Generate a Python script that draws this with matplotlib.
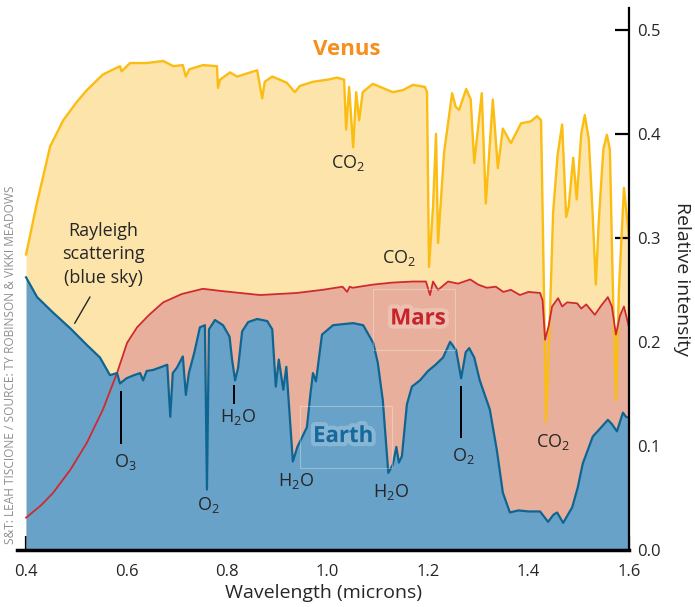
import matplotlib
matplotlib.use("Agg")
import matplotlib.pyplot as plt
import matplotlib.patheffects as pe
from matplotlib.patches import Rectangle

# Spectra (wavelength in microns, relative intensity)
venus_wl = [0.400, 0.420, 0.448, 0.474, 0.500, 0.521, 0.553, 0.587, 0.590, 0.607, 0.640,
            0.673, 0.693, 0.712, 0.718, 0.725, 0.752, 0.780, 0.782, 0.786, 0.806, 0.820,
            0.840, 0.860, 0.870, 0.875, 0.890, 0.905, 0.919, 0.935, 0.945, 0.971, 1.000,
            1.019, 1.033, 1.037, 1.043, 1.051, 1.057, 1.063, 1.070, 1.090, 1.110, 1.130,
            1.150, 1.170, 1.194, 1.198, 1.202, 1.210, 1.216, 1.220, 1.232, 1.248, 1.255,
            1.262, 1.276, 1.285, 1.292, 1.307, 1.315, 1.329, 1.339, 1.349, 1.365, 1.385,
            1.405, 1.417, 1.425, 1.429, 1.435, 1.441, 1.449, 1.458, 1.467, 1.475, 1.480,
            1.489, 1.496, 1.505, 1.512, 1.520, 1.527, 1.534, 1.540, 1.549, 1.556, 1.562,
            1.568, 1.574, 1.580, 1.590, 1.595, 1.600]
venus_val = [0.284, 0.330, 0.388, 0.413, 0.430, 0.442, 0.457, 0.465, 0.460, 0.468, 0.468,
             0.470, 0.465, 0.466, 0.455, 0.462, 0.466, 0.465, 0.444, 0.452, 0.459, 0.455,
             0.458, 0.461, 0.434, 0.450, 0.455, 0.452, 0.449, 0.440, 0.446, 0.450, 0.452,
             0.454, 0.452, 0.404, 0.445, 0.387, 0.440, 0.413, 0.440, 0.448, 0.444, 0.440,
             0.442, 0.447, 0.445, 0.440, 0.272, 0.330, 0.400, 0.295, 0.382, 0.439, 0.426,
             0.423, 0.443, 0.433, 0.372, 0.439, 0.333, 0.433, 0.367, 0.405, 0.391, 0.410,
             0.412, 0.417, 0.413, 0.300, 0.123, 0.200, 0.324, 0.380, 0.409, 0.320, 0.330,
             0.377, 0.337, 0.400, 0.418, 0.395, 0.330, 0.255, 0.317, 0.385, 0.399, 0.385,
             0.250, 0.144, 0.250, 0.348, 0.324, 0.300]

mars_wl = [0.400, 0.430, 0.454, 0.488, 0.521, 0.553, 0.581, 0.601, 0.621, 0.645, 0.673,
           0.710, 0.752, 0.786, 0.806, 0.866, 0.939, 0.990, 1.030, 1.039, 1.044, 1.050,
           1.090, 1.130, 1.170, 1.196, 1.204, 1.210, 1.220, 1.240, 1.260, 1.284, 1.300,
           1.317, 1.335, 1.350, 1.365, 1.383, 1.400, 1.423, 1.428, 1.433, 1.440, 1.447,
           1.459, 1.467, 1.477, 1.497, 1.505, 1.515, 1.532, 1.545, 1.558, 1.566, 1.574,
           1.582, 1.590, 1.600]
mars_val = [0.031, 0.043, 0.055, 0.077, 0.103, 0.135, 0.170, 0.199, 0.214, 0.226, 0.238,
            0.246, 0.251, 0.249, 0.248, 0.245, 0.247, 0.250, 0.253, 0.248, 0.253, 0.252,
            0.255, 0.257, 0.258, 0.258, 0.245, 0.258, 0.250, 0.258, 0.256, 0.260, 0.255,
            0.252, 0.253, 0.248, 0.250, 0.245, 0.248, 0.247, 0.240, 0.202, 0.215, 0.234,
            0.242, 0.234, 0.238, 0.237, 0.232, 0.236, 0.226, 0.235, 0.243, 0.234, 0.207,
            0.225, 0.234, 0.214]

earth_wl = [0.400, 0.422, 0.454, 0.488, 0.521, 0.547, 0.567, 0.581, 0.587, 0.600, 0.615,
            0.627, 0.633, 0.640, 0.653, 0.670, 0.681, 0.687, 0.692, 0.700, 0.712, 0.718,
            0.724, 0.735, 0.746, 0.756, 0.760, 0.764, 0.776, 0.792, 0.805, 0.810, 0.816,
            0.822, 0.830, 0.842, 0.860, 0.880, 0.890, 0.897, 0.903, 0.912, 0.918, 0.931,
            0.940, 0.959, 0.966, 0.971, 0.977, 0.989, 1.011, 1.030, 1.051, 1.071, 1.091,
            1.100, 1.110, 1.121, 1.130, 1.137, 1.142, 1.148, 1.158, 1.168, 1.184, 1.200,
            1.215, 1.230, 1.244, 1.256, 1.266, 1.275, 1.282, 1.292, 1.303, 1.323, 1.337,
            1.349, 1.363, 1.380, 1.400, 1.423, 1.439, 1.450, 1.457, 1.469, 1.487, 1.498,
            1.508, 1.528, 1.545, 1.558, 1.566, 1.576, 1.588, 1.594, 1.600]
earth_val = [0.262, 0.243, 0.228, 0.213, 0.197, 0.185, 0.168, 0.170, 0.160, 0.165, 0.168,
             0.170, 0.163, 0.172, 0.173, 0.176, 0.178, 0.128, 0.170, 0.175, 0.186, 0.149,
             0.170, 0.190, 0.214, 0.216, 0.058, 0.212, 0.221, 0.216, 0.205, 0.183, 0.163,
             0.175, 0.210, 0.219, 0.222, 0.220, 0.212, 0.157, 0.183, 0.154, 0.176, 0.085,
             0.099, 0.118, 0.150, 0.170, 0.162, 0.207, 0.216, 0.217, 0.218, 0.216, 0.199,
             0.180, 0.144, 0.074, 0.082, 0.099, 0.084, 0.090, 0.140, 0.157, 0.163, 0.172,
             0.178, 0.185, 0.200, 0.192, 0.165, 0.190, 0.194, 0.185, 0.163, 0.135, 0.096,
             0.055, 0.036, 0.038, 0.037, 0.037, 0.027, 0.034, 0.036, 0.026, 0.041, 0.060,
             0.083, 0.109, 0.118, 0.125, 0.121, 0.114, 0.132, 0.128, 0.127]

tick_x = [0.4, 0.6, 0.8, 1.0, 1.2, 1.4, 1.6]
tick_y = [0.0, 0.1, 0.2, 0.3, 0.4, 0.5]

venus_fill, venus_line = "#fde4ab", "#fbbd12"
mars_fill, mars_line = "#e8b09c", "#cf2a2f"
earth_fill, earth_line = "#68a2c8", "#0e6592"
txt = "#262626"

plt.rcParams["font.family"] = ["Open Sans", "DejaVu Sans"]
plt.rcParams["mathtext.default"] = "regular"

fig = plt.figure(figsize=(6.95, 6.07), dpi=100)
ax = fig.add_axes([0.0245, 0.094, 0.8805, 0.893])

ax.fill_between(venus_wl, 0, venus_val, color=venus_fill, lw=0, zorder=1)
ax.fill_between(mars_wl, 0, mars_val, color=mars_fill, lw=0, zorder=2)
ax.fill_between(earth_wl, 0, earth_val, color=earth_fill, lw=0, zorder=3)
ax.plot(venus_wl, venus_val, color=venus_line, lw=1.7, zorder=4)
ax.plot(mars_wl, mars_val, color=mars_line, lw=1.3, zorder=5)
ax.plot(earth_wl, earth_val, color=earth_line, lw=1.6, zorder=6)

ax.set_xlim(0.382, 1.6)
ax.set_ylim(0, 0.521)

for s in ["left", "top"]:
    ax.spines[s].set_visible(False)
ax.spines["bottom"].set_linewidth(2.5)
ax.spines["right"].set_linewidth(1.6)
ax.spines["bottom"].set_zorder(10)
ax.spines["right"].set_zorder(10)

ax.set_xticks(tick_x)
ax.set_xticklabels([f"{v:.1f}" for v in tick_x])
ax.set_yticks(tick_y)
ax.set_yticklabels([f"{v:.1f}" for v in tick_y])
ax.yaxis.tick_right()
ax.yaxis.set_label_position("right")
ax.tick_params(axis="both", direction="in", length=10, width=1.6, colors="black",
               labelcolor=txt, labelsize=12, zorder=10)
ax.tick_params(axis="y", pad=6)
ax.tick_params(axis="x", pad=10)
ax.set_xlabel("Wavelength (microns)", fontsize=14, color=txt, labelpad=3)
ax.set_ylabel("Relative intensity", fontsize=14, color=txt, rotation=270, labelpad=22)

glow = [pe.withStroke(linewidth=6, foreground="white", alpha=0.22)]
ax.text(1.039, 0.481, "Venus", color="#f5901e", fontsize=16, fontweight="bold",
        ha="center", va="center", zorder=8)
ax.text(1.18, 0.222, "Mars", color="#c8232a", fontsize=16, fontweight="bold",
        ha="center", va="center", zorder=8, path_effects=glow)
ax.text(1.031, 0.109, "Earth", color="#17699b", fontsize=16, fontweight="bold",
        ha="center", va="center", zorder=8, path_effects=glow)
ax.add_patch(Rectangle((1.09, 0.192), 0.163, 0.059, fill=False, ec="white",
                       lw=0.8, alpha=0.3, zorder=7))
ax.add_patch(Rectangle((0.945, 0.079), 0.183, 0.059, fill=False, ec="white",
                       lw=0.8, alpha=0.3, zorder=7))

lab = dict(fontsize=13, color=txt, ha="center", va="center", zorder=8)
ax.text(1.041, 0.372, "CO$_2$", **lab)
ax.text(1.142, 0.281, "CO$_2$", **lab)
ax.text(1.449, 0.104, "CO$_2$", **lab)
ax.text(0.553, 0.284, "Rayleigh\nscattering\n(blue sky)", linespacing=1.4, **lab)
ax.plot([0.527, 0.497], [0.243, 0.218], color=txt, lw=1.0, zorder=8)

ax.plot([0.589, 0.589], [0.152, 0.103], color="black", lw=1.4, zorder=8)
ax.text(0.597, 0.085, "O$_3$", **lab)
ax.text(0.762, 0.043, "O$_2$", **lab)
ax.plot([0.814, 0.814], [0.158, 0.141], color="black", lw=1.4, zorder=8)
ax.text(0.822, 0.128, "H$_2$O", **lab)
ax.text(0.937, 0.066, "H$_2$O", **lab)
ax.text(1.126, 0.056, "H$_2$O", **lab)
ax.plot([1.266, 1.266], [0.157, 0.109], color="black", lw=1.4, zorder=8)
ax.text(1.27, 0.090, "O$_2$", **lab)

fig.text(0.0145, 0.399, "S&T: LEAH TISCIONE / SOURCE: TY ROBINSON & VIKKI MEADOWS",
         rotation=90, fontsize=8.6, color="#8f8f8f", ha="center", va="center")

fig.savefig("out.png", dpi=100)
